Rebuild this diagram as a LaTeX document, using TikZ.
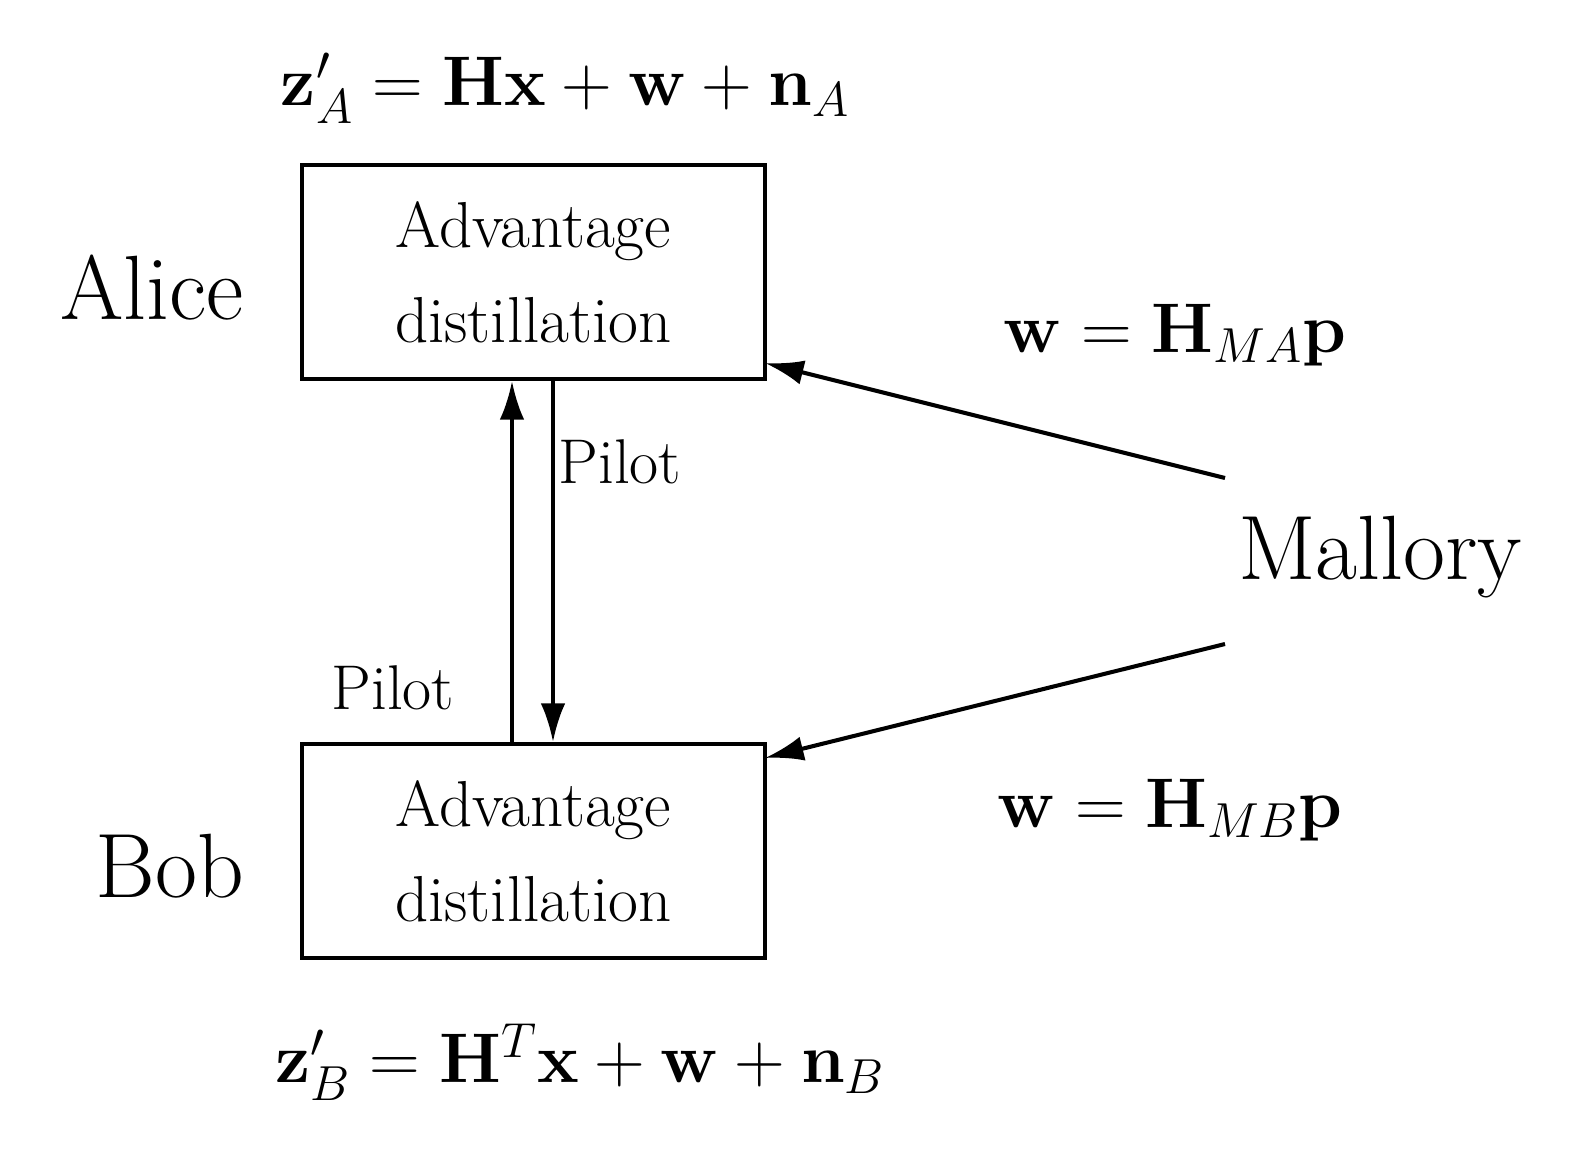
\RequirePackage{fix-cm}
\documentclass[tikz,border=0pt]{standalone}
\usepackage{amsmath}
\usetikzlibrary{arrows.meta}
\begin{document}
\begin{tikzpicture}[x=0.02cm,y=-0.02cm,
  box/.style={draw,line width=2.3pt,minimum width=463*0.02cm,minimum height=214*0.02cm,inner sep=0pt,font=\fontsize{37}{54}\selectfont,align=center},
  big/.style={font=\fontsize{52}{60}\selectfont,inner sep=0pt},
  eq/.style={font=\fontsize{40}{48}\selectfont,inner sep=0pt},
  pil/.style={font=\fontsize{36}{40}\selectfont,inner sep=0pt},
  arr/.style={line width=2.3pt,-{Latex[length=22pt,width=14pt]}}]
\useasboundingbox (0,0) rectangle (1593,1157);
\node[box] (A) at (533.5,272) {Advantage\\distillation};
\node[box] (B) at (533.5,851) {Advantage\\distillation};
\node[big] (alice) at (152,288) {Alice};
\node[big] (bob) at (170,866) {Bob};
\node[big] (mal) at (1380,557) {Mallory};
\node[eq] (eA) at (565,88) {$\mathbf{z}'_A=\mathbf{H}\mathbf{x}+\mathbf{w}+\mathbf{n}_A$};
\node[eq] (eB) at (580,1062) {$\mathbf{z}'_B=\mathbf{H}^T\mathbf{x}+\mathbf{w}+\mathbf{n}_B$};
\node[eq] (wA) at (1175,335) {$\mathbf{w}=\mathbf{H}_{MA}\mathbf{p}$};
\node[eq] (wB) at (1170,810) {$\mathbf{w}=\mathbf{H}_{MB}\mathbf{p}$};
\node[pil] (p1) at (620,462) {Pilot};
\node[pil] (p2) at (393,688) {Pilot};
\coordinate (m1) at (1225,478);
\coordinate (m2) at (1225,644);
\draw[arr] (B.north -| 512,0) -- (A.south -| 512,0);
\draw[arr] (A.south -| 553,0) -- (B.north -| 553,0);
\draw[arr] (m1) -- (765,363);
\draw[arr] (m2) -- (765,758);
\end{tikzpicture}
\end{document}
